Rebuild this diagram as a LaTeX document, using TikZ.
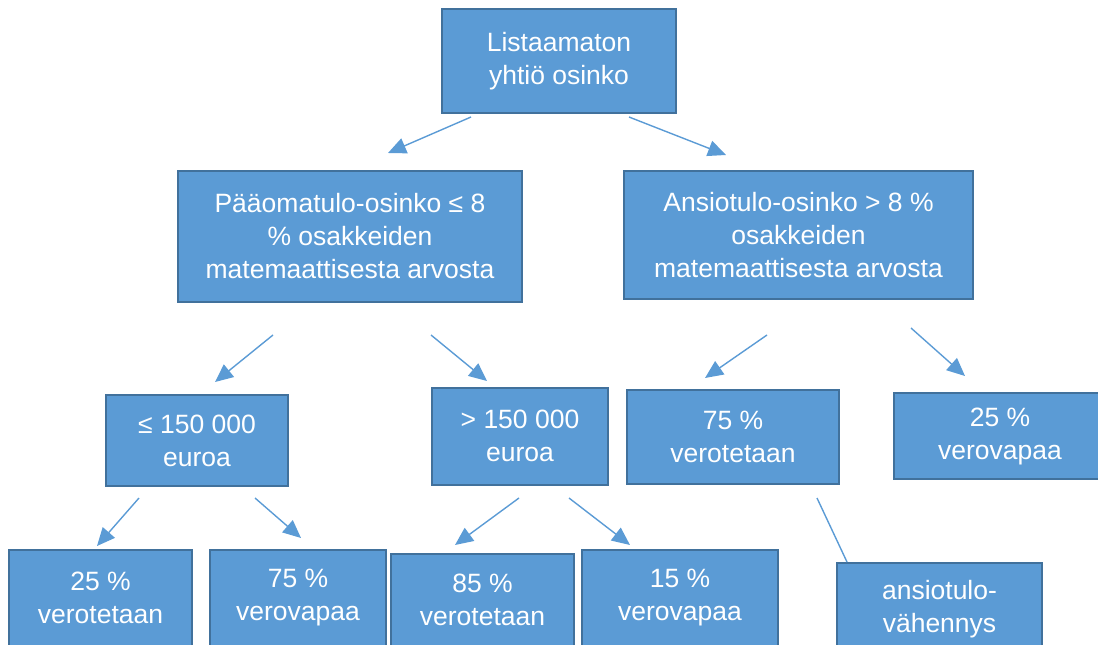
\documentclass[tikz,border=0pt]{standalone}
\usepackage{fontspec}
\setmainfont{Liberation Sans}
\usetikzlibrary{arrows.meta}
\definecolor{boxfill}{HTML}{5B9BD5}
\definecolor{boxline}{HTML}{41719C}
\definecolor{arr}{HTML}{5B9BD5}
\begin{document}
\begin{tikzpicture}[x=1pt,y=-1pt,
  box/.style={draw=boxline, line width=2pt, fill=boxfill, text=white, align=center, inner sep=0pt, font=\fontsize{26.5}{33}\selectfont},
  conn/.style={draw=arr, line width=1.4pt, -{Triangle[length=18pt,width=16pt]}},
  plainconn/.style={draw=arr, line width=1.4pt}]
\useasboundingbox (0,0) rectangle (1098,645);
\clip (0,0) rectangle (1098,645);
% boxes
\node[box, minimum width=234pt, minimum height=104pt] (top) at (559,61) {Listaamaton\\yhtiö osinko};
\node[box, minimum width=344pt, minimum height=131pt] (paa) at (350,236.5) {Pääomatulo-osinko ≤ 8\\\% osakkeiden\\matemaattisesta arvosta};
\node[box, minimum width=349pt, minimum height=128pt] (ansio) at (798.5,235) {Ansiotulo-osinko > 8 \%\\osakkeiden\\matemaattisesta arvosta};
\node[box, minimum width=182pt, minimum height=91pt] (le) at (197,440.5) {≤ 150 000\\euroa};
\node[box, minimum width=176pt, minimum height=97pt] (gt) at (520,436) {> 150 000\\euroa};
\node[box, minimum width=212pt, minimum height=94pt] (vt75) at (733,437) {75 \%\\verotetaan};
\node[box, minimum width=212pt, minimum height=86pt] (vp25) at (1000,436) {25 \%\\verovapaa};
\node[box, minimum width=183pt, minimum height=96pt] (b1) at (100.5,598) {25 \%\\verotetaan};
\node[box, minimum width=176pt, minimum height=96pt] (b2) at (298,598) {75 \%\\verovapaa};
\node[box, minimum width=183pt, minimum height=92pt] (b3) at (482.5,600) {85 \%\\verotetaan};
\node[box, minimum width=196pt, minimum height=96pt] (b4) at (680,598) {15 \%\\verovapaa};
\node[box, minimum width=205pt, minimum height=92pt] (ah) at (939.5,609) {ansiotulo-\\vähennys};
% connector end points
\coordinate (a1s) at (471,117); \coordinate (a1e) at (388,153);
\coordinate (a2s) at (629,117); \coordinate (a2e) at (726,155);
\coordinate (a3s) at (273,335); \coordinate (a3e) at (215,382);
\coordinate (a4s) at (431,335); \coordinate (a4e) at (487,381);
\coordinate (a5s) at (767,335); \coordinate (a5e) at (705,378);
\coordinate (a6s) at (911,328); \coordinate (a6e) at (965,376);
\coordinate (a7s) at (139,498); \coordinate (a7e) at (97,546);
\coordinate (a8s) at (255,498); \coordinate (a8e) at (301,538);
\coordinate (a9s) at (519,498); \coordinate (a9e) at (455,545);
\coordinate (a10s) at (569,498); \coordinate (a10e) at (630,545);
\coordinate (l1s) at (817,498); \coordinate (l1e) at (847,562);
% connectors
\draw[conn] (a1s) -- (a1e);
\draw[conn] (a2s) -- (a2e);
\draw[conn] (a3s) -- (a3e);
\draw[conn] (a4s) -- (a4e);
\draw[conn] (a5s) -- (a5e);
\draw[conn] (a6s) -- (a6e);
\draw[conn] (a7s) -- (a7e);
\draw[conn] (a8s) -- (a8e);
\draw[conn] (a9s) -- (a9e);
\draw[conn] (a10s) -- (a10e);
\draw[plainconn] (l1s) -- (l1e);
\end{tikzpicture}
\end{document}
